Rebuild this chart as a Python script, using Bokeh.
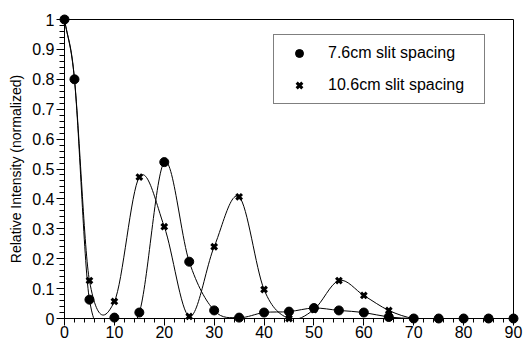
import numpy as np
from bokeh.plotting import figure
from bokeh.models import ColumnDataSource, FixedTicker, Legend, LegendItem
from bokeh.embed import file_html
from bokeh.resources import INLINE

# ---- data ----
x_pos = [0, 2, 5, 10, 15, 20, 25, 30, 35, 40, 45, 50, 55, 60, 65, 70, 75, 80, 85, 90]
y_76 = [1.0, 0.8, 0.063, 0.003, 0.02, 0.523, 0.19, 0.027, 0.003, 0.02, 0.023, 0.035,
        0.027, 0.02, 0.005, 0.0, 0.0, 0.0, 0.0, 0.0]
y_106 = [1.0, 0.8, 0.127, 0.057, 0.473, 0.307, 0.007, 0.24, 0.407, 0.097, 0.0, 0.03,
         0.127, 0.077, 0.027, 0.0, 0.0, 0.0, 0.0, 0.0]
series_names = ["7.6cm slit spacing", "10.6cm slit spacing"]
x_ticks = [0, 10, 20, 30, 40, 50, 60, 70, 80, 90]
x_tick_labels = ["0", "10", "20", "30", "40", "50", "60", "70", "80", "90"]
y_ticks = [0, 0.1, 0.2, 0.3, 0.4, 0.5, 0.6, 0.7, 0.8, 0.9, 1.0]
y_tick_labels = ["0", "0.1", "0.2", "0.3", "0.4", "0.5", "0.6", "0.7", "0.8", "0.9", "1"]
y_label = "Relative Intensity (normalized)"


def smooth_segments(xs, ys):
    """Bezier control points of a Catmull-Rom style smooth curve through the points."""
    xs = np.asarray(xs, float)
    ys = np.asarray(ys, float)
    n = len(xs)
    m = np.zeros(n)
    for i in range(n):
        if i == 0:
            m[i] = (ys[1] - ys[0]) / (xs[1] - xs[0])
        elif i == n - 1:
            m[i] = (ys[-1] - ys[-2]) / (xs[-1] - xs[-2])
        else:
            m[i] = (ys[i + 1] - ys[i - 1]) / (xs[i + 1] - xs[i - 1])
    h = xs[1:] - xs[:-1]
    return dict(
        x0=xs[:-1], y0=ys[:-1], x1=xs[1:], y1=ys[1:],
        cx0=xs[:-1] + h / 3, cy0=ys[:-1] + m[:-1] * h / 3,
        cx1=xs[1:] - h / 3, cy1=ys[1:] - m[1:] * h / 3,
    )


p = figure(width=523, height=343,
           x_range=(0, 90), y_range=(0, 1),
           output_backend="svg", toolbar_location=None,
           min_border_left=64, min_border_top=19, min_border_right=10, min_border_bottom=25)
p.background_fill_color = "white"
p.border_fill_color = "white"
p.outline_line_color = "black"
p.outline_line_width = 1
p.xgrid.visible = False
p.ygrid.visible = False

for ys in (y_76, y_106):
    src = ColumnDataSource(smooth_segments(x_pos, ys))
    p.bezier(x0="x0", y0="y0", x1="x1", y1="y1", cx0="cx0", cy0="cy0", cx1="cx1", cy1="cy1",
             source=src, line_color="black", line_width=1)

r1 = p.scatter(x_pos, y_76, marker="circle", size=9, fill_color="black", line_color="black", level="overlay")
r2 = p.scatter(x_pos, y_106, marker="x", size=8, line_color="black", line_width=3, level="overlay")

font = "Liberation Sans"
p.xaxis.ticker = FixedTicker(ticks=x_ticks, minor_ticks=list(range(0, 91, 2)))
p.xaxis.major_label_overrides = dict(zip(x_ticks, x_tick_labels))
p.yaxis.ticker = FixedTicker(ticks=y_ticks, minor_ticks=[round(i * 0.02, 2) for i in range(51)])
p.yaxis.major_label_overrides = dict(zip(y_ticks, y_tick_labels))
for ax in (p.xaxis, p.yaxis):
    ax.axis_line_color = "black"
    ax.major_tick_line_color = "black"
    ax.minor_tick_line_color = "black"
    ax.major_tick_in = 0
    ax.minor_tick_in = 0
    ax.major_label_text_font = font
    ax.major_label_text_color = "black"
    ax.major_label_text_font_size = "16px"
p.xaxis.major_tick_out = 7
p.xaxis.minor_tick_out = 4
p.xaxis.major_label_standoff = 0
p.yaxis.major_tick_out = 8
p.yaxis.minor_tick_out = 5
p.yaxis.major_label_standoff = 2
p.yaxis.axis_label = y_label
p.yaxis.axis_label_text_font = font
p.yaxis.axis_label_text_font_size = "14px"
p.yaxis.axis_label_text_font_style = "normal"
p.yaxis.axis_label_text_color = "black"
p.yaxis.axis_label_standoff = 5

legend = Legend(items=[LegendItem(label=series_names[0], renderers=[r1]),
                       LegendItem(label=series_names[1], renderers=[r2])],
                location=(209, 214))
legend.border_line_color = "black"
legend.border_line_width = 1
legend.background_fill_alpha = 1
legend.padding = 8
legend.spacing = 12
legend.glyph_width = 34
legend.glyph_height = 20
legend.label_height = 20
legend.label_width = 148
legend.label_standoff = 12
legend.margin = 0
legend.label_text_font = font
legend.label_text_font_size = "16px"
legend.label_text_color = "black"
p.add_layout(legend, "center")

open("out.html", "w").write(file_html(p, INLINE))
